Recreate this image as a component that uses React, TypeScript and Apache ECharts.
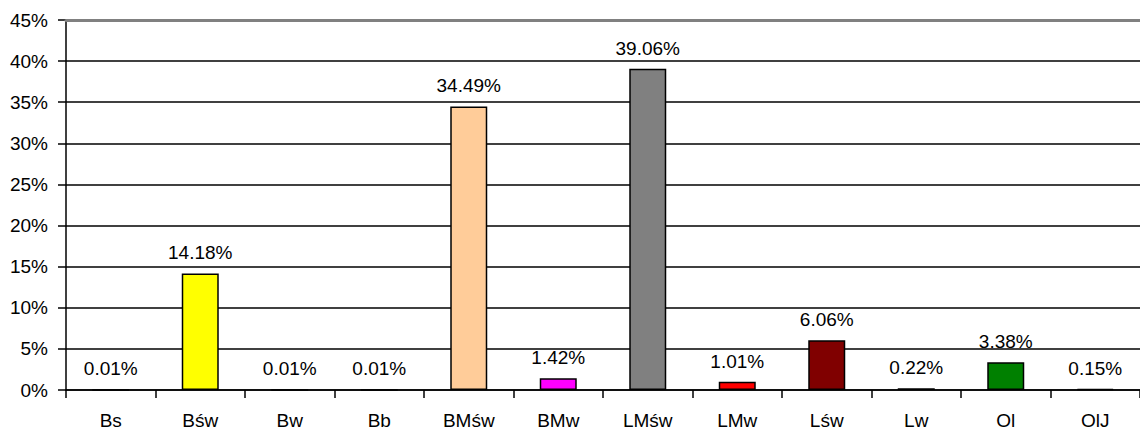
import React, { useEffect, useRef } from "react";
import * as echarts from "echarts";

const categories = ["Bs", "Bśw", "Bw", "Bb", "BMśw", "BMw", "LMśw", "LMw", "Lśw", "Lw", "Ol", "OlJ"];
const values = [0.01, 14.18, 0.01, 0.01, 34.49, 1.42, 39.06, 1.01, 6.06, 0.22, 3.38, 0.15];
const barColors = ["#000080", "#FFFF00", "#00FFFF", "#800080", "#FFCC99", "#FF00FF", "#808080", "#FF0000", "#800000", "#000000", "#008000", "#000000"];
const yTicks = [0, 5, 10, 15, 20, 25, 30, 35, 40, 45];

const FONT = "'Liberation Sans', Arial, sans-serif";

export default function App() {
  const ref = useRef<HTMLDivElement>(null);
  useEffect(() => {
    document.body.style.margin = "0";
    const chart = echarts.init(ref.current!, null, { renderer: "svg" });
    chart.setOption({
      animation: false,
      backgroundColor: "#ffffff",
      grid: { left: 66, right: -12, top: 20, bottom: 44, containLabel: false },
      xAxis: [
        {
          type: "category",
          data: categories,
          axisLine: { lineStyle: { color: "#000", width: 1.5 } },
          axisTick: { show: true, length: 8, lineStyle: { color: "#000", width: 1.5 } },
          axisLabel: { color: "#000", fontSize: 19, fontFamily: FONT, margin: 21 },
        },
        {
          type: "category",
          data: categories,
          position: "top",
          z: 10,
          axisLine: { show: true, lineStyle: { color: "#808080", width: 3 } },
          axisTick: { show: false },
          axisLabel: { show: false },
          splitLine: { show: false },
        },
      ],
      yAxis: {
        type: "value",
        min: yTicks[0],
        max: yTicks[yTicks.length - 1],
        interval: 5,
        axisLine: { show: true, lineStyle: { color: "#000", width: 1.5 } },
        axisTick: { show: true, length: 8, lineStyle: { color: "#000", width: 1.5 } },
        axisLabel: {
          color: "#000",
          fontSize: 19,
          fontFamily: FONT,
          margin: 18,
          formatter: (v: number) => `${v}%`,
        },
        splitLine: { show: true, lineStyle: { color: "#000", width: 1.5 } },
      },
      series: [
        {
          type: "bar",
          xAxisIndex: 0,
          barWidth: 37,
          data: values.map((v, i) => ({
            value: v,
            itemStyle: { color: barColors[i], borderColor: "#000", borderWidth: 1.5 },
          })),
          label: {
            show: true,
            position: "top",
            distance: 11,
            color: "#000",
            fontSize: 19,
            fontFamily: FONT,
            formatter: (p: any) => `${p.value.toFixed(2)}%`,
          },
        },
      ],
    });
    return () => chart.dispose();
  }, []);
  return <div ref={ref} style={{ width: 1140, height: 434 }} />;
}
